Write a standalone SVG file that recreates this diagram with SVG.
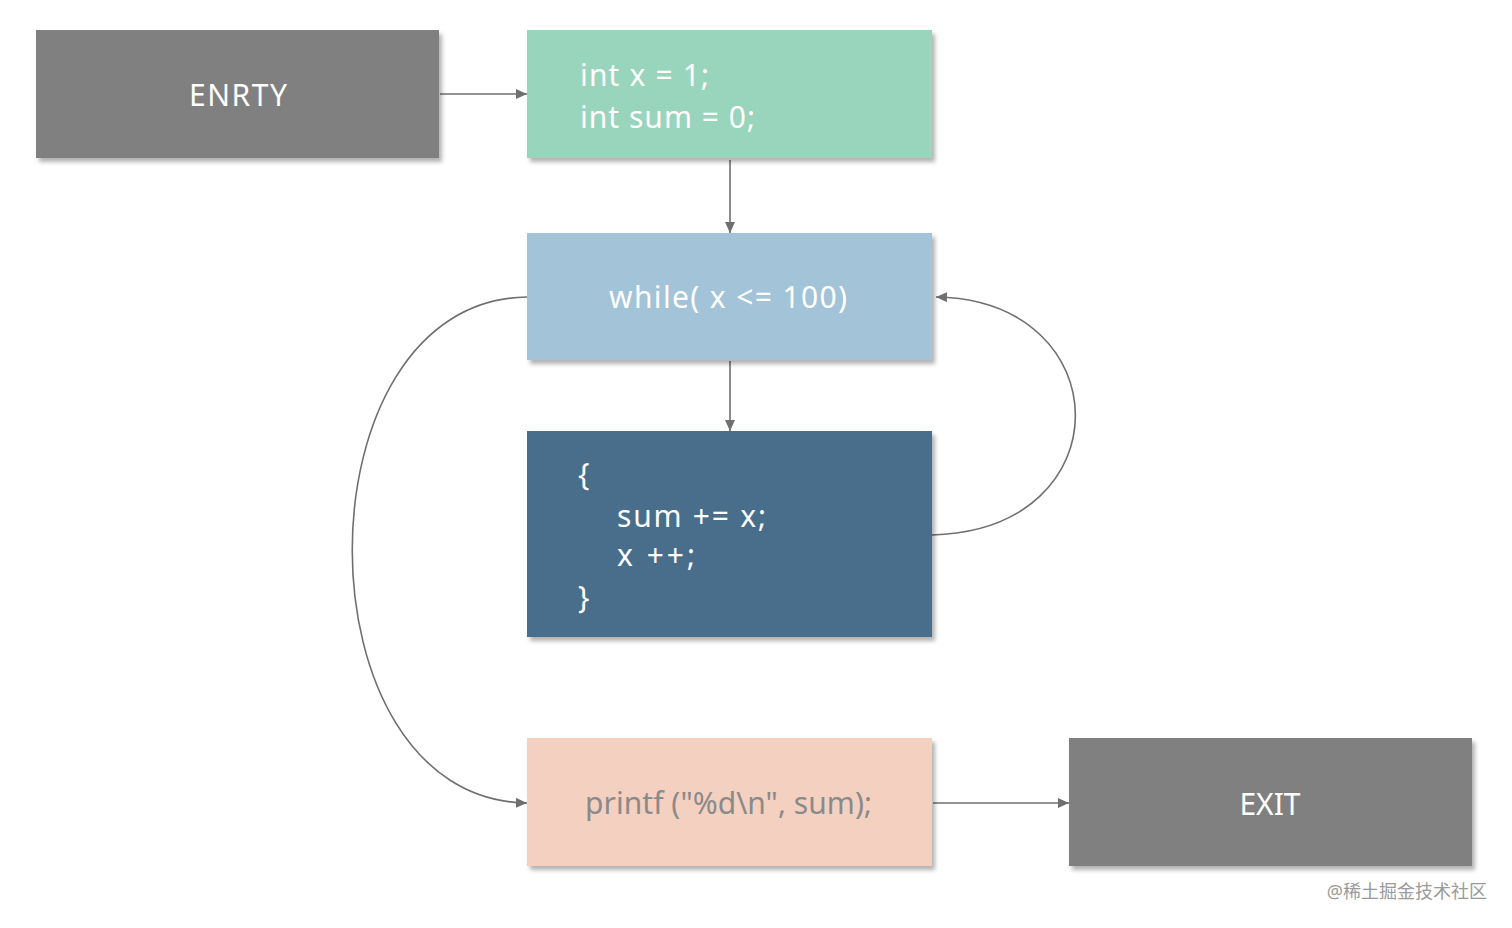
<svg xmlns="http://www.w3.org/2000/svg" width="1512" height="928" viewBox="0 0 1512 928">
<style>
.box{filter:url(#sh)}
.t{font-family:"Noto Sans","Open Sans","Liberation Sans",sans-serif;font-size:30px;fill:#ffffff}
.c{stroke:#6f6f6f;stroke-width:1.6;fill:none;marker-end:url(#ah)}
.wm{font-family:"Noto Sans","Noto Sans CJK SC",sans-serif;font-size:18px;fill:#9a9a9a}
</style>
<defs>
<filter id="sh" x="-5%" y="-5%" width="115%" height="120%">
<feDropShadow dx="3" dy="4" stdDeviation="2" flood-color="#000" flood-opacity="0.3"/>
</filter>
<marker id="ah" markerWidth="12" markerHeight="10" refX="11" refY="5" orient="auto" markerUnits="userSpaceOnUse">
<path d="M0,0 L11,5 L0,10 Z" fill="#6f6f6f"/>
</marker>
</defs>
<rect width="1512" height="928" fill="#ffffff"/>
<g id="connectors">
<line class="c" x1="440" y1="94" x2="527" y2="94"/>
<line class="c" x1="730" y1="160" x2="730" y2="233"/>
<line class="c" x1="730" y1="361" x2="730" y2="431"/>
<path class="c" d="M932,535 C1125,530 1120,300 936,297"/>
<path class="c" d="M527,297 C294,300 294,800 527,803"/>
<line class="c" x1="933" y1="803" x2="1069" y2="803"/>
</g>
<g id="entry">
<rect class="box" x="36" y="30" width="403" height="128" fill="#808080"/>
<text class="t" x="189" y="106" textLength="98" lengthAdjust="spacing">ENRTY</text>
</g>
<g id="init">
<rect class="box" x="527" y="30" width="405" height="128" fill="#99d4bc"/>
<text class="t" x="580" y="86" textLength="129" lengthAdjust="spacing">int x = 1;</text>
<text class="t" x="580" y="128" textLength="175" lengthAdjust="spacing">int sum = 0;</text>
</g>
<g id="while">
<rect class="box" x="527" y="233" width="405" height="127" fill="#a2c3d8"/>
<text class="t" x="609" y="308" textLength="238" lengthAdjust="spacing">while( x &lt;= 100)</text>
</g>
<g id="body">
<rect class="box" x="527" y="431" width="405" height="206" fill="#4a6e8c"/>
<text class="t" x="578" y="485">{</text>
<text class="t" x="617" y="527" textLength="149" lengthAdjust="spacing">sum += x;</text>
<text class="t" x="617" y="566" textLength="78" lengthAdjust="spacing">x ++;</text>
<text class="t" x="578" y="608">}</text>
</g>
<g id="printf">
<rect class="box" x="527" y="738" width="405" height="128" fill="#f4d0c0"/>
<text class="t" x="585" y="814" textLength="287" lengthAdjust="spacing" style="fill:#8a8a8a">printf ("%d\n", sum);</text>
</g>
<g id="exit">
<rect class="box" x="1069" y="738" width="403" height="128" fill="#808080"/>
<text class="t" x="1270" y="815" text-anchor="middle">EXIT</text>
</g>
<text class="wm" x="1487" y="898" text-anchor="end">@稀土掘金技术社区</text>
</svg>
